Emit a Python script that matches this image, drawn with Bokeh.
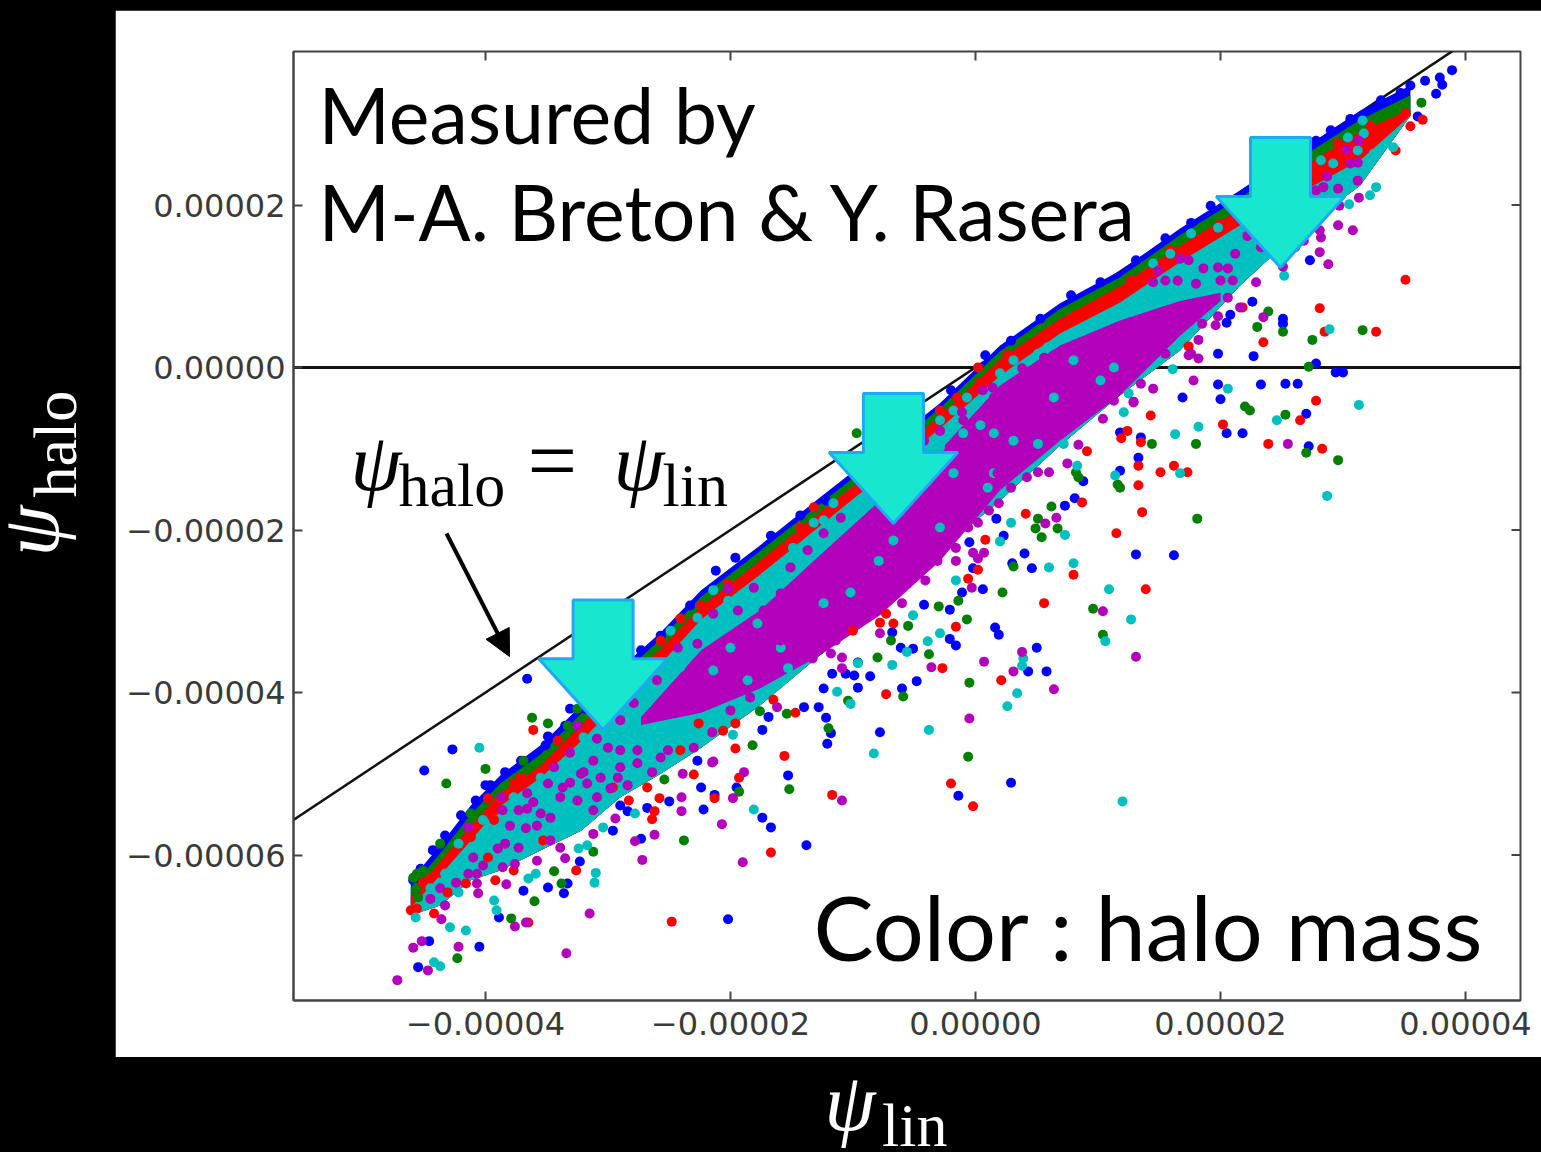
from bokeh.plotting import figure
from bokeh.io import curdoc
from bokeh.embed import file_html
from bokeh.resources import INLINE
from bokeh.layouts import row, column
from bokeh.models import Label, FixedTicker, Arrow, NormalHead, CustomJS, Spacer

# all values in units of 1e-6
x_ticks = [-40, -20, 0, 20, 40]
x_tick_labels = ["\u22120.00004", "\u22120.00002", "0.00000", "0.00002", "0.00004"]
y_ticks = [-60, -40, -20, 0, 20]
y_tick_labels = ["\u22120.00006", "\u22120.00004", "\u22120.00002", "0.00000", "0.00002"]

band_x = [-46.1,-43.7,-41.2,-38.8,-35.5,-32.2,-29.0,-25.7,-22.4,-17.6,-12.7,-7.8,-2.9,2.0,6.9,11.8,16.7,21.6,26.5,31.4,35.5]
blue_top = [-63.1,-58.8,-53.9,-50.2,-46.5,-41.6,-37.0,-32.6,-27.4,-21.9,-16.0,-10.2,-4.4,2.7,7.9,11.9,17.1,21.8,26.7,31.6,34.7]
green_top = [-64.0,-59.8,-55.0,-51.2,-47.6,-42.6,-38.0,-33.4,-28.2,-22.6,-16.8,-11.0,-5.0,2.0,7.2,11.1,16.3,20.9,25.8,30.5,33.5]
red_top = [-65.2,-60.8,-56.4,-52.4,-49.0,-44.0,-39.2,-34.6,-29.4,-23.8,-17.8,-12.0,-6.0,1.0,6.0,10.0,15.0,19.5,24.5,29.0,31.8]
cyan_top = [-66.5,-62.5,-58.2,-54.0,-50.5,-46.0,-41.0,-36.5,-31.0,-25.5,-19.5,-13.5,-7.5,-1.0,4.2,8.0,13.0,17.5,21.5,25.5,31.0]
band_bottom = [-67.4,-66.2,-63.1,-61.9,-59.4,-57.0,-52.9,-50.0,-46.8,-41.6,-35.4,-29.9,-22.5,-16.4,-9.6,-3.4,2.1,10.1,16.9,22.4,31.0]
magenta_x = [-27.3,-22.4,-17.6,-12.7,-7.8,-2.9,2.0,6.9,11.8,16.7,20.0]
magenta_top = [-43.0,-34.8,-29.9,-23.1,-16.4,-10.2,-2.2,2.7,5.8,8.2,9.2]
magenta_bottom = [-44.0,-42.5,-39.5,-35.4,-30.5,-23.8,-15.1,-9.0,-3.4,3.9,8.2]

blue_points = [(-36.6,-38.3),(-42.7,-47.0),(-45.0,-49.6),(-40.0,-51.4),(-33.1,-42.0),(-34.9,-45.4),(-22.4,-51.7),(-21.3,-52.6),(-25.0,-53.4),(-22.2,-54.4),(-28.4,-54.6),(-29.0,-53.9),(-26.8,-54.2),(-29.6,-57.0),(-27.3,-58.0),(-17.4,-55.4),(-16.7,-56.6),(-15.3,-50.2),(-17.4,-44.6),(-16.9,-43.0),(-32.3,-60.8),(-36.9,-64.4),(-34.9,-64.0),(-33.3,-63.5),(-33.6,-64.7),(-38.9,-67.7),(-20.2,-67.9),(-44.6,-70.6),(-40.5,-71.3),(-45.5,-73.8),(-22.7,-48.4),(-19.5,-51.7),
(16.9,-3.7),(11.8,-8.0),(13.5,-8.6),(13.3,-11.1),(11.8,-12.7),(8.8,-14.0),(8.1,-16.1),(7.3,-17.0),(1.7,-18.6),(2.3,-20.7),(-0.5,-21.5),(4.0,-22.9),(13.1,-23.0),(16.2,-23.1),(3.0,-24.1),(4.6,-24.7),(-0.2,-24.7),(0.6,-27.3),(-1.1,-27.7),(-4.2,-29.2),(-2.1,-29.8),(1.6,-32.0),(1.9,-32.9),(-2.1,-33.4),(-1.6,-34.2),(-6.8,-32.6),(-6.1,-34.5),(-5.1,-34.6),(5.0,-34.5),(5.8,-37.4),(4.3,-37.4),(-4.8,-38.6),(-8.6,-38.0),(-9.6,-39.4),(-6.0,-39.5),(-11.7,-37.7),(-10.6,-37.7),(-9.9,-37.9),(-12.4,-39.5),(-12.8,-41.8),(-14.0,-41.8),(-12.2,-43.1),(-11.8,-45.0),(-12.1,-46.3),(-7.8,-44.9),(-9.6,-36.3),
(38.9,36.6),(37.9,35.7),(38.1,34.8),(37.6,33.7),(36.7,35.3),(36.1,30.9),(27.3,13.2),(22.6,8.1),(20.8,6.5),(20.5,5.5),(25.1,6.0),(25.1,5.4),(19.8,1.7),(22.7,1.4),(27.8,0.5),(29.4,-0.6),(30.0,-0.6),(19.8,-2.1),(23.3,-2.1),(25.3,-2.0),(26.3,-2.0),(20.0,-3.9),(27.0,-5.7),(20.5,-8.1),(21.8,-8.1),(27.2,-9.7),(2.9,-51.1),(-13.8,-58.8),(-1.4,-52.7),
(-45.9,-63.1),(-45.3,-61.7),(-44.3,-59.4),(-43.3,-57.6),(-42.0,-55.1),(-40.8,-53.3),(-39.6,-51.4),(-38.4,-49.8),(-37.1,-48.4),(-35.1,-46.5),(-33.5,-44.1),(-31.8,-42.0),(-27.3,-34.8),(-25.7,-33.0),(-23.3,-29.3),(-21.2,-25.0),(-19.6,-23.4),(-16.7,-20.7),(-14.3,-18.2),(-12.2,-16.4),(-9.4,-13.7),(-4.5,-7.1),(-2.0,-2.8),(0.8,1.5),(2.9,3.3),(5.3,6.0),(7.8,8.9),(10.2,10.5),(13.1,13.2),(15.5,15.9),(17.6,17.8),(19.2,19.9),(27.8,27.9),(29.0,29.2),(30.6,30.6),(33.1,32.9),(34.7,33.8),(35.5,34.7)]

green_points = [(-36.2,-43.1),(-34.9,-43.8),(-40.0,-49.4),(-43.2,-51.2),(-15.2,-51.9),(-23.8,-58.2),(-31.2,-59.6),(-34.4,-62.0),(-36.0,-65.7),(-33.8,-63.5),(-37.9,-67.8),(-42.3,-72.7),(-25.4,-50.7),(-19.3,-52.2),(-18.2,-46.5),(-15.4,-42.6),(-17.6,-42.3),
(-9.7,-8.1),(6.2,-17.1),(5.1,-18.6),(4.9,-19.8),(6.7,-19.8),(5.4,-20.9),(14.4,-9.4),(18.0,-9.4),(18.1,-18.6),(8.2,-12.9),(8.4,-13.5),(11.6,-14.4),(11.8,-14.8),(3.1,-24.5),(2.2,-27.7),(-1.4,-28.7),(-3.0,-29.4),(-0.7,-31.0),(-5.5,-31.8),(-6.9,-33.6),(-3.8,-35.3),(-8.0,-35.7),(-0.5,-38.8),(-5.9,-40.5),(-10.4,-41.0),(-12.0,-44.4),(9.6,-29.7),(10.4,-32.9),(-0.6,-47.9),
(23.9,6.9),(23.0,5.0),(25.1,4.4),(27.5,3.4),(31.6,4.6),(27.2,0.1),(22.0,-4.8),(22.4,-5.3),(25.3,-5.8),(27.0,-10.5),(29.6,-11.4),(36.4,32.6),
(-45.5,-65.2),(-45.9,-62.8),(-45.1,-61.9),(-45.6,-64.0),(-32.5,-42.0),(-33.3,-44.1),(-36.9,-48.4),(-41.2,-54.9),(-43.7,-58.6),(-45.6,-62.3)]

red_points = [(-36.1,-44.6),(-15.6,-47.8),(-19.3,-50.5),(-21.3,-53.0),(-25.8,-53.0),(-28.3,-53.3),(-26.2,-54.6),(-26.4,-55.6),(-16.7,-59.7),(-32.6,-61.9),(-39.2,-63.1),(-36.5,-68.3),(-24.8,-68.2),(-44.2,-67.2),(-16.5,-40.9),(-14.7,-42.5),(-23.0,-50.1),(-19.6,-46.9),
(17.4,2.6),(14.3,-5.9),(9.1,-10.3),(12.4,-7.8),(11.9,-8.7),(13.5,-9.2),(13.3,-12.1),(13.3,-14.5),(15.1,-12.9),(16.2,-12.1),(17.3,-12.9),(8.7,-16.6),(4.1,-18.0),(13.6,-17.8),(11.5,-20.4),(0.8,-21.2),(0.2,-24.9),(-0.6,-26.0),(8.0,-25.5),(13.9,-27.3),(5.6,-29.0),(-1.6,-31.9),(-6.7,-31.5),(-7.8,-31.4),(-2.7,-37.0),(2.1,-38.5),(-7.3,-40.2),(-10.0,-32.4),(-7.3,-30.3),
(35.1,10.8),(28.1,7.3),(21.8,7.4),(28.5,4.4),(32.7,4.4),(23.5,3.1),(27.8,-4.1),(26.5,-6.5),(20.2,-7.0),(23.9,-9.4),(28.3,-10.0),(36.5,30.5),(35.5,29.7),(35.1,31.3),(34.3,26.7),(-2.0,-51.2),(-0.2,-54.0),(-11.7,-52.6),
(-44.5,-62.8),(-45.1,-63.4),(-43.8,-62.2),(-39.8,-53.0),(-39.2,-54.5),(-39.3,-55.7),(-41.2,-57.8),(-39.8,-60.3),(-37.1,-50.5),(-37.7,-51.2),(-34.1,-45.9),(-37.7,-61.9),(-41.6,-63.5),(-43.1,-64.6),(-45.6,-66.6),(-46.1,-66.8),(-35.3,-58.2),(-29.6,-51.7),(-26.8,-51.7),(-24.1,-47.1),(-22.6,-43.8),(-20.6,-44.7),(-19.6,-43.8),
(-24.1,-30.9),(-25.7,-33.6),(-22.4,-29.3),(-20.2,-26.6),
(-13.2,-17.2),(-14.3,-19.7),(-2.9,-5.3),(-1.5,-3.7),(0.4,-1.8),(2.6,1.5),(0.2,0.0),(13.5,10.7),(12.7,10.7),(15.9,14.4),(19.2,16.5),(20.0,17.7),(29.6,27.6),(32.2,29.8),(33.1,28.8),(29.2,26.3)]

cyan_points = [(-40.5,-46.8),(-18.1,-54.4),(-27.8,-54.9),(-30.4,-56.6),(-32.4,-59.2),(-31.7,-58.8),(-31.0,-62.2),(-31.1,-63.4),(-36.5,-62.9),(-35.9,-62.3),(-39.3,-65.6),(-39.1,-66.8),(-42.9,-68.9),(-41.6,-69.3),(-45.7,-67.7),(-44.2,-73.2),(-43.7,-73.7),(-19.8,-45.2),(-15.3,-37.0),
(16.1,-0.2),(16.3,-8.2),(18.2,-7.3),(12.1,-5.5),(11.4,-13.3),(16.7,-13.0),(8.3,-12.1),(7.3,-20.6),(2.9,-19.1),(2.0,-21.4),(8.0,-24.1),(6.0,-24.6),(10.9,-27.3),(12.7,-31.0),(10.6,-33.7),(-1.6,-26.2),(-2.9,-32.7),(-3.9,-33.7),(-5.6,-35.0),(-5.1,-30.5),(-6.8,-36.6),(-9.6,-36.4),(3.9,-35.8),(3.8,-36.7),(3.4,-40.1),(2.6,-41.7),(-11.3,-39.9),(-10.2,-41.4),(-3.8,-44.6),(-8.3,-47.5),
(32.7,22.2),(32.2,21.2),(30.5,20.1),(25.2,11.3),(28.9,4.7),(20.6,-2.6),(31.3,-4.6),(24.6,-6.5),(34.1,27.1),(31.7,24.1),(28.7,-15.8),(12.0,-53.4),(12.5,-3.2),
(-40.2,-55.7),(-42.2,-58.6),(-43.3,-62.3),(-37.7,-52.9),(-35.5,-50.5),(-33.3,-48.6),(-32.0,-45.5),(-40.7,-58.8),(-42.2,-64.6),(-44.5,-64.1),(-34.4,-54.2),(-32.5,-54.2),
(31.6,30.4),(30.4,28.3),(31.7,28.8),(31.2,26.7),(32.5,26.3),(-24.9,-32.4),(-22.7,-30.8),(-21.4,-27.4),
(-12.4,-18.8),(-11.6,-16.7),(-13.2,-19.1),(-2.9,-6.5),(-1.8,-5.3),(-0.7,-3.7),(2.0,-0.7),(3.1,0.9),(5.1,1.7),(5.9,2.5),(14.5,12.8),(15.9,14.0),(17.6,16.5),(19.8,17.2),(28.2,25.5),(29.2,25.1)]

magenta_points = [(-31.5,-67.2),(-33.4,-72.1),(-42.2,-71.3),(-45.2,-70.6),(-45.9,-71.4),(-44.7,-74.2),(-47.2,-75.4),(-37.6,-68.8),(-36.7,-68.3),(-43.6,-67.9),(-40.6,-64.7),(-38.3,-63.6),(-27.2,-60.6),(-19.0,-60.9),(-20.7,-56.2),(-24.0,-54.6),(-26.2,-57.5),(-27.8,-58.3),(-24.0,-52.9),(-19.8,-53.0),(-18.9,-49.8),(-29.4,-55.5),(-21.4,-48.5),(-16.2,-41.8),
(14.5,-2.6),(17.8,-1.6),(7.5,-11.8),(8.4,-9.5),(6.6,-18.5),(5.7,-19.2),(0.7,-22.8),(-0.2,-22.8),(0.2,-23.5),(-0.3,-27.1),(-7.8,-32.7),(-3.6,-36.9),(0.7,-36.2),(3.8,-35.0),(3.1,-37.4),(6.4,-39.6),(10.4,-30.0),(13.1,-35.6),(-0.5,-43.2),(-10.9,-37.0),(-10.9,-53.3),
(30.8,16.9),(29.6,17.5),(28.1,16.9),(28.2,16.0),(28.1,14.2),(28.8,12.7),(25.1,12.4),(31.3,20.9),(29.7,19.9),(23.5,6.2),(22.9,10.5),(19.6,5.2),(19.8,6.3),(18.2,3.4),(17.4,1.5),(18.2,1.1),(12.9,-4.2),(25.5,-9.4),(30.3,26.8),(31.2,23.0),
(-41.4,-56.6),(-41.0,-60.3),(-40.2,-61.3),(-39.0,-59.2),(-38.4,-58.6),(-38.7,-52.9),(-38.6,-54.5),(-38.0,-56.4),(-37.3,-54.5),(-36.6,-54.3),(-36.7,-56.7),(-35.5,-54.9),(-36.1,-53.5),(-34.7,-55.4),(-33.9,-52.9),(-33.1,-51.1),(-31.7,-51.2),(-30.6,-50.5),(-32.0,-49.8),(-33.7,-51.7),(-34.9,-51.2),(-36.6,-52.4),(-35.8,-56.4),(-33.9,-59.1),(-33.5,-60.4),(-34.7,-58.2),(-35.8,-60.7),(-37.3,-59.1),(-38.6,-61.5),(-37.6,-61.1),(-40.7,-62.3),(-41.4,-62.3),(-40.7,-63.5),(-42.4,-63.4),(-43.7,-64.1),(-44.5,-65.4),(-43.3,-66.2),(-31.2,-57.4),(-31.2,-54.5),(-32.5,-53.3),(-30.9,-52.9),(-29.8,-51.8),(-28.4,-51.4),(-26.4,-49.8),(-27.6,-48.7),(-29.0,-49.2),(-30.0,-46.8),(-30.9,-45.7),(-29.0,-47.1),(-27.6,-47.1),(-25.7,-48.0),(-23.9,-50.0),(-21.5,-48.6),(-23.0,-46.8),(-21.5,-44.9),(-25.1,-47.1),(-20.0,-42.2),(-18.4,-40.6),(-21.4,-41.0),(-19.8,-40.1),(-32.5,-44.1),(-33.1,-47.4),(-34.4,-49.2),(-32.2,-50.0),(-31.2,-48.4),(-29.2,-50.5),
(-11.8,-35.2),(-11.4,-33.6),(-10.9,-35.7),(-9.1,-30.8),(-7.8,-28.7),(-6.0,-29.0),(-4.1,-26.2),(-3.1,-23.8),(-1.6,-23.8),(-1.6,-22.2),(-0.6,-19.7),(0.2,-19.1),(1.1,-17.6),(1.9,-16.7),(2.9,-14.8),(4.2,-13.5),(6.0,-12.9),(5.1,-12.9),(1.8,-13.0),(10.4,-6.3),(11.3,-4.1),(12.9,-4.3),(13.5,-2.0),(15.5,1.7),(17.6,1.7),(5.6,1.2),(6.4,1.5),(3.8,-0.1),(0.6,-2.8),(1.4,-2.5),(-1.1,-5.5),(-14.3,-35.2),(-13.2,-32.7),(-11.3,-32.7),(-13.3,-35.8),(-15.9,-33.6),
(14.9,11.9),(16.7,13.4),(17.4,13.2),(18.6,12.2),(19.8,12.3),(20.6,12.2),(21.2,14.0),(14.5,10.5),(15.5,10.7),(16.5,10.7),(18.0,10.3),(20.0,10.7),(21.0,10.7),(18.9,7.9),(20.6,8.6),(21.6,7.4),(18.5,5.4),(17.4,5.8),(22.2,16.2),(23.3,14.8),(26.8,15.6),(26.1,14.8),(28.4,22.2),(27.8,21.8),(29.6,22.0),(28.7,23.5),(31.2,25.2),(30.6,25.1),(31.3,27.9),
(1.5,-3.7),(3.1,-2.8),(4.5,-0.4),(8.6,2.1),(10.2,1.2),(11.3,2.5),(12.9,2.7),(-1.0,-6.5),(-2.9,-7.8),(-4.2,-9.0),(-11.0,-18.5),(-12.4,-20.4),(-13.7,-22.5),(-15.1,-24.6),(-24.3,-34.5),(-22.7,-34.0),(-21.4,-30.3),(-19.4,-29.9),(-17.3,-29.9),(-18.1,-27.1),(-15.9,-27.8),(-26.0,-38.5),(-27.9,-41.3),(-29.0,-43.4),(-20.2,-27.2)]

# cyan points that show through the dense magenta cloud
cyan_flecks = [(0.4,-7.1),(-1.0,-8.1),(-2.9,-9.8),(1.5,-8.1),(3.1,-9.0),(5.1,-9.4),(6.4,-3.7),(8.0,0.9),(11.3,0.0),(10.2,-1.6),(-6.7,-21.3),(-7.9,-23.8),(-10.2,-27.7),(-12.4,-29.0),(-15.3,-25.8),(-14.9,-22.2),(7.2,-9.4),(1.0,-14.8),(1.5,-13.0),(-2.9,-19.7),(-1.8,-13.0),
(-24.1,-36.9),(-26.8,-41.3),(-21.4,-37.3),(-20.0,-34.5),(-17.8,-31.5),(-15.9,-34.5),(-18.6,-38.5),(-22.4,-32.4),(-20.2,-28.7)]

arrow_tips_x = [24.9, -6.7, -30.4]
arrow_tips_y = [12.3, -19.2, -44.6]

identity = [-60, 50]
COL = {"b": "#0000ff", "g": "#007f00", "r": "#ff0000", "c": "#00bfbf", "m": "#b300ba"}

# page pixel -> data helpers for page furniture only
fx = lambda px: (px - 975) / 12.25
fy = lambda py: (367 - py) / 8.125

p = figure(frame_width=1227, frame_height=949, x_range=(fx(293), fx(1520)), y_range=(fy(1000), fy(51)),
           min_border_left=178, min_border_right=21, min_border_top=41, min_border_bottom=57,
           output_backend="svg", toolbar_location=None, border_fill_color="#ffffff",
           background_fill_color="#ffffff", outline_line_color="#444444", outline_line_width=2)
p.grid.visible = False

for ax, ticks, labels in ((p.xaxis[0], x_ticks, x_tick_labels), (p.yaxis[0], y_ticks, y_tick_labels)):
    ax.ticker = FixedTicker(ticks=ticks)
    ax.major_label_overrides = dict(zip(ticks, labels))
    ax.major_label_text_font = "DejaVu Sans"
    ax.major_label_text_font_size = "32px"
    ax.major_label_text_color = "#3a3a3a"
    ax.major_tick_in = 9
    ax.major_tick_out = 0
    ax.minor_tick_in = 0
    ax.minor_tick_out = 0
    ax.major_tick_line_color = "#444444"
    ax.major_tick_line_width = 2
    ax.axis_line_color = "#444444"
    ax.axis_line_width = 2
p.xaxis[0].major_label_standoff = 11
p.yaxis[0].major_label_standoff = 8

p.segment(x_ticks, [fy(51)] * 5, x_ticks, [fy(60)] * 5, line_color="#444444", line_width=2)
p.segment([fx(1520)] * 5, y_ticks, [fx(1511)] * 5, y_ticks, line_color="#444444", line_width=2)

p.line(identity, identity, line_color="#111111", line_width=2.5)
p.line(identity, [0, 0], line_color="#111111", line_width=3)

p.varea(band_x, blue_top, band_bottom, fill_color=COL["b"])
p.varea(band_x, green_top, band_bottom, fill_color=COL["g"])
p.varea(band_x, red_top, band_bottom, fill_color=COL["r"])
p.varea(band_x, cyan_top, band_bottom, fill_color=COL["c"])
p.varea(magenta_x, magenta_top, magenta_bottom, fill_color=COL["m"])

for points, color in ((blue_points, "b"), (green_points, "g"), (red_points, "r"), (cyan_points, "c"),
                      (cyan_flecks, "c"), (magenta_points, "m")):
    p.scatter([q[0] for q in points], [q[1] for q in points], size=10, fill_color=COL[color], line_color=None)

# block arrows
SH, HH, SHO, TOP = 2.45, 5.25, 8.75, 16.0
for tx, ty in zip(arrow_tips_x, arrow_tips_y):
    p.patch([tx, tx - HH, tx - SH, tx - SH, tx + SH, tx + SH, tx + HH],
            [ty, ty + SHO, ty + SHO, ty + TOP, ty + TOP, ty + SHO, ty + SHO],
            fill_color="#19e6cf", line_color="#1fa8f5", line_width=3)

p.add_layout(Arrow(end=NormalHead(size=26, fill_color="#000000", line_color="#000000"),
                   x_start=fx(446), y_start=fy(533), x_end=fx(509), y_end=fy(656), line_width=4, line_color="#000000"))

def side_figure(w, h, x0, y0):
    f = figure(width=w, height=h, x_range=(x0, x0 + w), y_range=(y0 + h, y0), output_backend="svg", toolbar_location=None,
               x_axis_type=None, y_axis_type=None, min_border=0, border_fill_color="#000000",
               background_fill_color="#000000", outline_line_color=None)
    f.grid.visible = False
    return f

left_fig = side_figure(115, 1152, 0, 0)
bottom_fig = side_figure(1426, 95, 115, 1057)

def label(fig, px, py, text, font, size, color="#000000", style="normal", angle=0):
    shift = 0.38 * size
    if angle:
        px -= shift
    else:
        py -= shift
    if fig is p:
        px, py = fx(px), fy(py)
    fig.add_layout(Label(x=px, y=py, text=text, text_font=font, text_font_size=f"{size}px", text_color=color,
                         text_font_style=style, angle=angle, angle_units="deg", text_baseline="alphabetic", text_align="left"))

label(p, 318, 143, "Measured by", "Lato", 77)
label(p, 318, 240, "M-A. Breton & Y. Rasera", "Lato", 77)
label(p, 813, 960, "Color : halo mass", "Lato", 90)
S = "Liberation Serif"
label(p, 350, 493, "\u03c8", S, 82, style="italic")
label(p, 398, 508, "halo", S, 62)
label(p, 527, 493, "=", S, 88)
label(p, 613, 493, "\u03c8", S, 82, style="italic")
label(p, 662, 508, "lin", S, 62)
label(left_fig, 61, 556, "\u03c8", S, 82, "#ffffff", "italic", 90)
label(left_fig, 78, 497, "halo", S, 62, "#ffffff", "normal", 90)
label(bottom_fig, 732, 1133, "\u03c8", S, 82, "#ffffff", "italic")
label(bottom_fig, 799, 1148, "lin", S, 62, "#ffffff")

layout = row(left_fig, column(Spacer(width=1426, height=10), p, bottom_fig))

doc = curdoc()
doc.add_root(layout)
doc.js_on_event("document_ready", CustomJS(code="document.body.style.margin='0';document.body.style.background='#000';document.documentElement.style.overflow='hidden';"))

open("out.html", "w").write(file_html(layout, INLINE))
